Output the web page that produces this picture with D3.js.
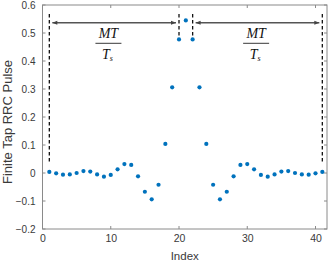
<!DOCTYPE html>
<html><head><meta charset="utf-8">
<script src="https://cdn.jsdelivr.net/npm/d3@7"></script>
<style>body{margin:0;background:#fff}svg{display:block}</style>
</head><body>
<svg id="c" width="332" height="264"></svg>
<script>
const indices = d3.range(1, 42);
const pulse = [0.004,-0.001,-0.006,-0.005,0.000,0.007,0.005,-0.005,-0.013,-0.007,
  0.013,0.032,0.029,-0.012,-0.067,-0.094,-0.042,0.104,0.306,0.477,
  0.545,
  0.477,0.306,0.104,-0.042,-0.094,-0.067,-0.012,0.029,0.032,0.013,
  -0.007,-0.013,-0.005,0.005,0.007,0.000,-0.005,-0.006,-0.001,0.004];
const xTicks = [0,10,20,30,40];
const yTicks = [-0.2,-0.1,0,0.1,0.2,0.3,0.4,0.5,0.6];
const dashOuter = [1, 41];
const dashInner = [20, 22];
const arrows = [[1,20],[22,41]];
const fracPos = [9.66, 31.3];

const svg = d3.select('#c');
const L=42.5, R=327, T=5, B=229;
const x = d3.scaleLinear().domain([0,40]).range([L,315.5]);
const y = d3.scaleLinear().domain([-0.2,0.6]).range([B,T]);
const axisCol = '#8a8a8a', textCol = '#3a3a3a';
const font = 'Helvetica, Arial, "Liberation Sans", sans-serif';

// frame
svg.append('rect').attr('x',L).attr('y',T).attr('width',R-L).attr('height',B-T)
  .attr('fill','none').attr('stroke',axisCol).attr('stroke-width',1);

const gx = svg.append('g').attr('transform',`translate(0,${B})`)
  .call(d3.axisBottom(x).tickValues(xTicks).tickSize(0).tickPadding(6).tickFormat(d3.format('d')));
gx.select('.domain').remove();
gx.selectAll('text').attr('fill',textCol).style('font-family',font).style('font-size','10.5px');
const gy = svg.append('g').attr('transform',`translate(${L},0)`)
  .call(d3.axisLeft(y).tickValues(yTicks).tickSize(0).tickPadding(7).tickFormat(d=>d===0?'0':d3.format('.1f')(d)));
gy.select('.domain').remove();
gy.selectAll('text').attr('fill',textCol).style('font-family',font).style('font-size','10px');

// inward ticks
const tl=3;
xTicks.forEach(t=>{
  svg.append('line').attr('x1',x(t)).attr('x2',x(t)).attr('y1',B).attr('y2',B-tl).attr('stroke',axisCol);
  svg.append('line').attr('x1',x(t)).attr('x2',x(t)).attr('y1',T).attr('y2',T+tl).attr('stroke',axisCol);
});
yTicks.forEach(t=>{
  svg.append('line').attr('x1',L).attr('x2',L+tl).attr('y1',y(t)).attr('y2',y(t)).attr('stroke',axisCol);
  svg.append('line').attr('x1',R).attr('x2',R-tl).attr('y1',y(t)).attr('y2',y(t)).attr('stroke',axisCol);
});

// labels
svg.append('text').attr('x',(L+R)/2).attr('y',260).attr('text-anchor','middle')
  .attr('fill',textCol).style('font-family',font).style('font-size','11.5px').text('Index');
svg.append('text').attr('transform',`translate(12,122) rotate(-90)`).attr('text-anchor','middle')
  .attr('fill',textCol).style('font-family',font).style('font-size','13px').text('Finite Tap RRC Pulse');

// dashed lines
dashOuter.forEach(i=>{
  svg.append('line').attr('x1',x(i)).attr('x2',x(i)).attr('y1',y(0.568)).attr('y2',y(0.032))
    .attr('stroke','#111').attr('stroke-width',1.3).attr('stroke-dasharray','3.5,2.5');
});
dashInner.forEach(i=>{
  svg.append('line').attr('x1',x(i)).attr('x2',x(i)).attr('y1',y(0.568)).attr('y2',y(0.49))
    .attr('stroke','#111').attr('stroke-width',1.3).attr('stroke-dasharray','3.5,2.5');
});

// arrows
const defs = svg.append('defs');
defs.append('marker').attr('id','ah').attr('viewBox','0 0 10 10').attr('refX',10).attr('refY',5)
  .attr('markerWidth',6).attr('markerHeight',5).attr('orient','auto-start-reverse').attr('markerUnits','userSpaceOnUse')
  .append('path').attr('d','M0,1 L10,5 L0,9 Z').attr('fill','#444');
arrows.forEach(([a,b])=>{
  svg.append('line').attr('x1',x(a)+3).attr('x2',x(b)-3).attr('y1',y(0.537)).attr('y2',y(0.537))
    .attr('stroke','#555').attr('stroke-width',1.5)
    .attr('marker-start','url(#ah)').attr('marker-end','url(#ah)');
});

// fractions
fracPos.forEach(p=>{
  const cx = x(p);
  const g = svg.append('g').style('font-family','"Times New Roman","Liberation Serif",serif').style('font-style','italic').attr('fill','#111');
  g.append('text').attr('x',cx).attr('y',38).attr('text-anchor','middle').style('font-size','14px').text('MT');
  g.append('line').attr('x1',cx-13).attr('x2',cx+13).attr('y1',43.3).attr('y2',43.3).attr('stroke','#222').attr('stroke-width',0.9);
  const t = g.append('text').attr('x',cx-1).attr('y',58.5).attr('text-anchor','middle').style('font-size','14px');
  t.append('tspan').text('T');
  t.append('tspan').attr('dy',2).style('font-size','8px').text('s');
});

// points
svg.append('g').selectAll('circle').data(indices).join('circle')
  .attr('cx',(d)=>x(d)).attr('cy',(d,i)=>y(pulse[i])).attr('r',2.1).attr('fill','#0072BD');
</script>
</body></html>
